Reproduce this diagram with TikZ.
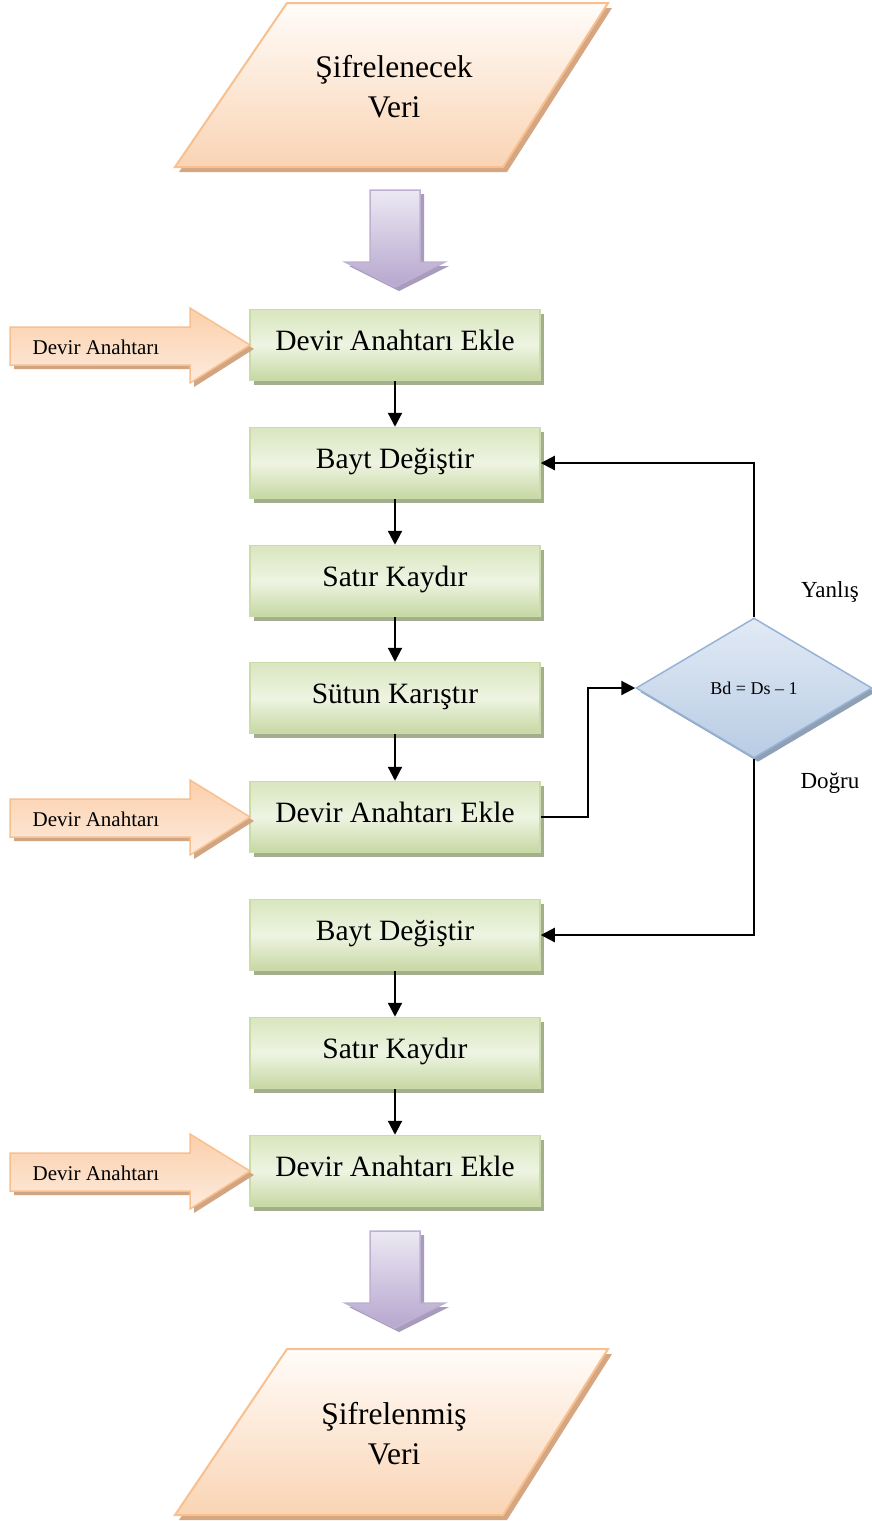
\documentclass[tikz,border=0pt]{standalone}
\usepackage{fontspec}
\setmainfont{Liberation Serif}
\usetikzlibrary{arrows.meta,shapes.geometric,shadows,calc}

% palette
\definecolor{ioline}{HTML}{F9C08F}
\definecolor{iotop}{HTML}{FFFCF9}
\definecolor{iobot}{HTML}{FAD4B4}
\definecolor{ioshade}{HTML}{D4A682}
\definecolor{boxline}{HTML}{CBDCA8}
\definecolor{boxtop}{HTML}{D9E6BF}
\definecolor{boxmid}{HTML}{EEF4E2}
\definecolor{boxbot}{HTML}{C6D8A3}
\definecolor{boxshade}{HTML}{A3AE8E}
\definecolor{purpline}{HTML}{BDB0D3}
\definecolor{purptop}{HTML}{ECE8F3}
\definecolor{purpbot}{HTML}{B6A7CE}
\definecolor{purpshade}{HTML}{A89BBB}
\definecolor{keytop}{HTML}{FBCFAA}
\definecolor{keybot}{HTML}{FDEBDD}
\definecolor{keyshade}{HTML}{D2A582}
\definecolor{decline}{HTML}{95B3D7}
\definecolor{dectop}{HTML}{E2EAF5}
\definecolor{decbot}{HTML}{B8CCE4}
\definecolor{decshade}{HTML}{8FA0B5}

\begin{document}
\begin{tikzpicture}[x=1pt,y=-1pt,
  bigtext/.style={font=\fontsize{31.5}{40}\selectfont, align=center},
  keytext/.style={font=\fontsize{21}{24}\selectfont},
  sidetext/.style={font=\fontsize{23}{26}\selectfont},
  iobody/.style={draw=ioline, line width=2pt, top color=iotop, bottom color=iobot},
  stepbox/.style={rectangle, minimum width=290pt, minimum height=71pt,
    text height=21pt, text depth=11pt,
    draw=boxline, line width=1.5pt,
    top color=boxtop, bottom color=boxbot, middle color=boxmid,
    general shadow={fill=boxshade, shadow xshift=4pt, shadow yshift=-4pt},
    font=\fontsize{29.5}{34}\selectfont},
  decision/.style={diamond, minimum width=236pt, minimum height=140pt, inner sep=0pt,
    draw=decline, line width=1.5pt, top color=dectop, bottom color=decbot,
    general shadow={fill=decshade, shadow xshift=4pt, shadow yshift=-4pt},
    font=\fontsize{18}{20}\selectfont},
  link/.style={draw=black, line width=2.2pt, -{Triangle[length=14pt,width=14pt]}},
  pics/fatdown/.style={code={
    \fill[purpshade] (-21,4) -- (29,4) -- (29,76) -- (54,76) -- (4,101) -- (-46,76) -- (-21,76) -- cycle;
    \path[draw=purpline, line width=1.5pt, top color=purptop, bottom color=purpbot]
      (-25,0) -- (25,0) -- (25,72) -- (50,72) -- (0,97) -- (-50,72) -- (-25,72) -- cycle;
  }},
  pics/keyarrow/.style={code={
    \fill[keyshade] (-236,-14) -- (-56,-14) -- (-56,-33) -- (4,4) -- (-56,42) -- (-56,24) -- (-236,24) -- cycle;
    \path[draw=ioline, line width=1.5pt, top color=keytop, bottom color=keybot]
      (-240,-18) -- (-60,-18) -- (-60,-37) -- (0,0) -- (-60,38) -- (-60,20) -- (-240,20) -- cycle;
  }}]
\useasboundingbox (0,0) rectangle (872,1521);

% input data
\fill[ioshade] (291,8) -- (612,8) -- (507,172) -- (179,172) -- cycle;
\path[iobody] (287,3) -- (608,3) -- (503,167) -- (175,167) -- cycle;
\node[bigtext] (src) at (394,87) {Şifrelenecek\\Veri};

\pic at (395,190) {fatdown};

% round steps
\node[stepbox] (b1) at (395,345) {Devir Anahtarı Ekle};
\node[stepbox] (b2) at (395,463) {Bayt Değiştir};
\node[stepbox] (b3) at (395,581) {Satır Kaydır};
\node[stepbox] (b4) at (395,698) {Sütun Karıştır};
\node[stepbox] (b5) at (395,817) {Devir Anahtarı Ekle};
\node[stepbox] (b6) at (395,935) {Bayt Değiştir};
\node[stepbox] (b7) at (395,1053) {Satır Kaydır};
\node[stepbox] (b8) at (395,1171) {Devir Anahtarı Ekle};

% round keys
\pic at (250,345) {keyarrow};
\node[keytext] (k1) at (96,347) {Devir Anahtarı};
\pic at (250,817) {keyarrow};
\node[keytext] (k2) at (96,819) {Devir Anahtarı};
\pic at (250,1171) {keyarrow};
\node[keytext] (k3) at (96,1173) {Devir Anahtarı};

% loop test
\node[decision] (dia) at (754,688) {Bd = Ds – 1};
\node[sidetext] (no) at (830,592) {Yanlış};
\node[sidetext] (yes) at (830,783) {Doğru};

% flow
\draw[link] (b1.south) -- (b2.north);
\draw[link] (b2.south) -- (b3.north);
\draw[link] (b3.south) -- (b4.north);
\draw[link] (b4.south) -- (b5.north);
\draw[link] (b6.south) -- (b7.north);
\draw[link] (b7.south) -- (b8.north);
\draw[link] (b5.east) -- ++(47,0) |- (dia.west);
\draw[link] (dia.north) |- (b2.east);
\draw[link] (dia.south) |- (b6.east);

\pic at (395,1231) {fatdown};

% output data
\fill[ioshade] (291,1354) -- (612,1354) -- (507,1520) -- (179,1520) -- cycle;
\path[iobody] (287,1349) -- (608,1349) -- (503,1515) -- (175,1515) -- cycle;
\node[bigtext] (dst) at (394,1434) {Şifrelenmiş\\Veri};
\end{tikzpicture}
\end{document}
